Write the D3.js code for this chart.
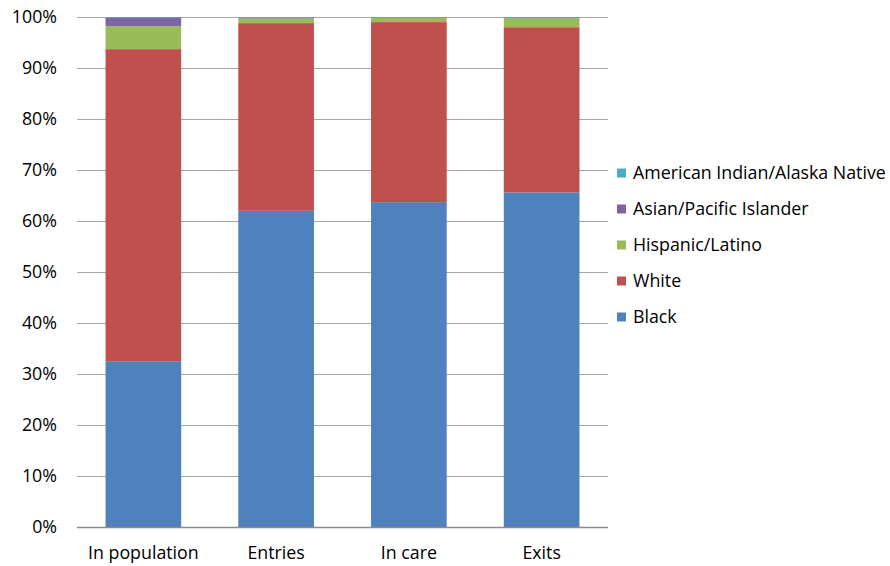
<!DOCTYPE html>
<html>
<head>
<meta charset="utf-8">
<script src="https://cdn.jsdelivr.net/npm/d3@7"></script>
<style>
  body { margin: 0; background: #fff; }
  svg { display: block; }
  text { font-family: "Open Sans", Lato, sans-serif; fill: #000; }
</style>
</head>
<body>
<svg id="chart" width="890" height="566"></svg>
<script>
const categories = ["In population", "Entries", "In care", "Exits"];
const seriesNames = ["Black", "White", "Hispanic/Latino", "Asian/Pacific Islander", "American Indian/Alaska Native"];
const black    = [32.5, 62.0, 63.7, 65.6];
const white    = [61.2, 36.8, 35.3, 32.4];
const hispanic = [4.5, 0.9, 0.8, 1.75];
const asian    = [1.7, 0.15, 0.05, 0.05];
const amInd    = [0.1, 0.15, 0.15, 0.2];
const tickValues = [0, 10, 20, 30, 40, 50, 60, 70, 80, 90, 100];
const colors = ["#4F81BD", "#C0504D", "#9BBB59", "#8064A2", "#4BACC6"];

const seriesValues = [black, white, hispanic, asian, amInd];
const rows = categories.map((c, i) => {
  const r = { category: c };
  seriesNames.forEach((s, j) => r[s] = seriesValues[j][i]);
  return r;
});

const svg = d3.select("#chart");
const plot = { left: 77, right: 608, top: 17, bottom: 527 };
const fs = 17.8;

const x = d3.scaleBand().domain(categories).range([plot.left, plot.right]).paddingInner(0.43).paddingOuter(0.215);
const y = d3.scaleLinear().domain([0, 100]).range([plot.bottom, plot.top]);

// gridlines
svg.append("g").selectAll("line").data(tickValues.filter(t => t > 0)).join("line")
  .attr("x1", plot.left).attr("x2", plot.right)
  .attr("y1", d => y(d) + 0.5).attr("y2", d => y(d) + 0.5)
  .attr("stroke", "#a6a6a6").attr("stroke-width", 1);

// y labels
svg.append("g").selectAll("text").data(tickValues).join("text")
  .attr("x", 57).attr("y", d => y(d)).attr("dy", "0.35em")
  .attr("text-anchor", "end").attr("font-size", fs)
  .text(d => d + "%");

const stack = d3.stack().keys(seriesNames);
const stacked = stack(rows);

svg.append("g").selectAll("g").data(stacked).join("g")
  .attr("fill", (d, i) => colors[i])
  .selectAll("rect").data(d => d).join("rect")
  .attr("x", d => x(d.data.category))
  .attr("width", x.bandwidth())
  .attr("y", d => y(d[1]))
  .attr("height", d => Math.max(0, y(d[0]) - y(d[1])));

// baseline
svg.append("line").attr("x1", plot.left).attr("x2", plot.right)
  .attr("y1", plot.bottom + 0.5).attr("y2", plot.bottom + 0.5)
  .attr("stroke", "#8c8c8c").attr("stroke-width", 1.5);

// x labels
svg.append("g").selectAll("text").data(categories).join("text")
  .attr("x", d => x(d) + x.bandwidth() / 2).attr("y", 559)
  .attr("text-anchor", "middle").attr("font-size", fs)
  .text(d => d);

// legend (reverse order)
const legendItems = seriesNames.map((s, i) => ({ name: s, color: colors[i] })).reverse();
const lg = svg.append("g").selectAll("g").data(legendItems).join("g")
  .attr("transform", (d, i) => `translate(617, ${173 + i * 36})`);
lg.append("rect").attr("x", 0).attr("y", -4.5).attr("width", 9).attr("height", 9).attr("fill", d => d.color);
lg.append("text").attr("x", 16).attr("y", 0).attr("dy", "0.35em").attr("font-size", fs).text(d => d.name);
</script>
</body>
</html>
